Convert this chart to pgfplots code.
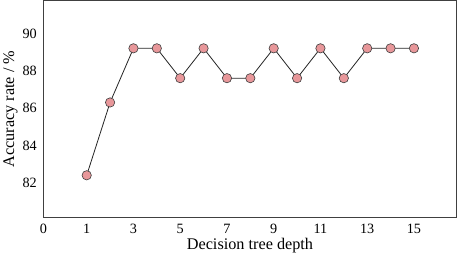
\documentclass[border=0pt]{standalone}
\usepackage{fontspec}
\setmainfont{Liberation Serif}
\usepackage{pgfplots}
\pgfplotsset{compat=1.18}
\definecolor{mk}{HTML}{E8979A}
\definecolor{ax}{HTML}{404040}
\begin{document}
\begin{tikzpicture}[x=1pt,y=1pt]
\begin{axis}[
  scale only axis,
  width=407pt, height=214pt,
  xmin=-0.85, xmax=16.82,
  ymin=80.13, ymax=91.76,
  xtick={-0.85,1,3,5,7,9,11,13,15},
  xticklabels={0,1,3,5,7,9,11,13,15},
  ytick={82,84,86,88,90},
  major tick length=0pt,
  axis line style={ax, line width=1pt},
  tick label style={font=\fontsize{14}{14}\selectfont},
  /pgf/number format/assume math mode=true,
  xlabel={Decision tree depth},
  ylabel={Accuracy rate / \%},
  label style={font=\fontsize{16}{16}\selectfont},
  xlabel style={yshift=3pt},
  ylabel style={yshift=-2pt},
  xticklabel style={yshift=-3pt},
  yticklabel style={xshift=-3pt},
]
\addplot[black!85, line width=0.8pt, mark=*, mark size=4.6pt,
  mark options={fill=mk, draw=black!75, line width=0.6pt}]
coordinates {
(1,82.4)(2,86.3)(3,89.2)(4,89.2)(5,87.6)(6,89.2)(7,87.6)(8,87.6)
(9,89.2)(10,87.6)(11,89.2)(12,87.6)(13,89.2)(14,89.2)(15,89.2)
};
\end{axis}
\end{tikzpicture}
\end{document}
